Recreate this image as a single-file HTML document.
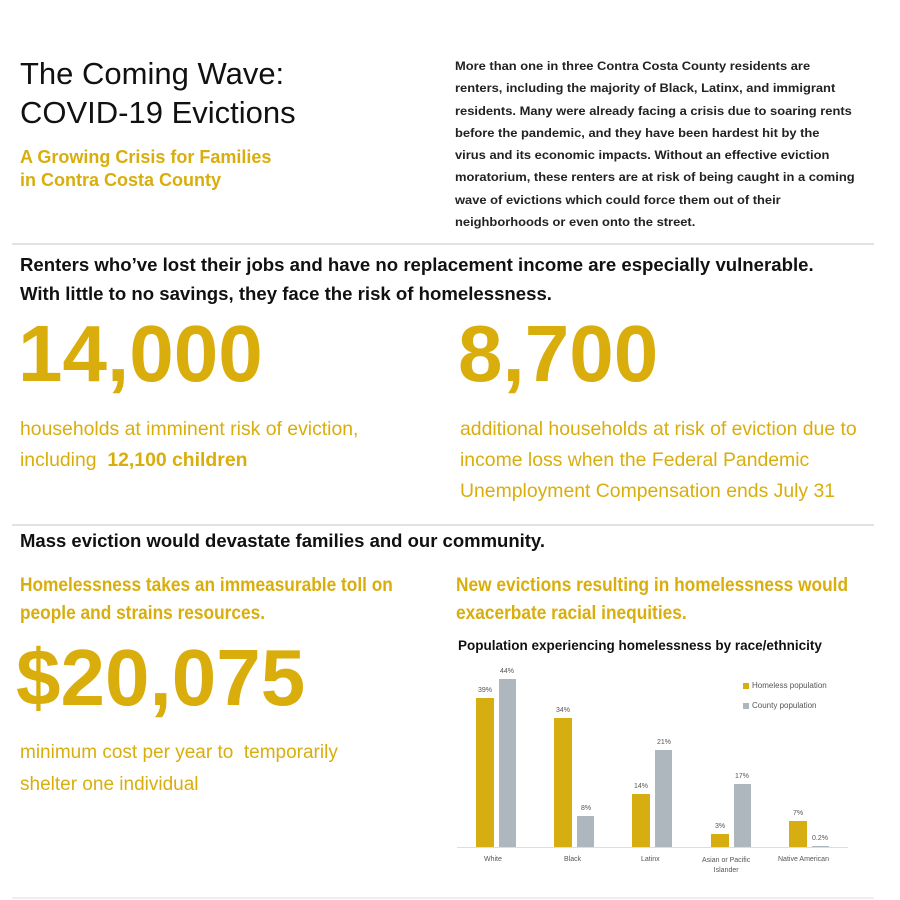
<!DOCTYPE html>
<html><head><meta charset="utf-8"><style>
body{margin:0;width:900px;height:900px;background:#fff;position:relative;overflow:hidden;font-family:"Liberation Sans",sans-serif;}
.t{position:absolute;white-space:nowrap;transform-origin:0 0;line-height:1;}
.g{color:#d9ae0c;}
.hr{position:absolute;left:12px;width:862px;height:2px;background:#e2e2e2;}
.bar{position:absolute;}
.y{background:#d6ae12;}
.s{background:#adb7bd;}
.sm{position:absolute;font-size:7px;color:#555;white-space:nowrap;line-height:1;}
</style></head><body>
<div class="t" style="left:20px;top:58px;font-size:31px;color:#111">The Coming Wave:</div>
<div class="t" style="left:20px;top:97px;font-size:31px;color:#111">COVID-19 Evictions</div>
<div class="t g" style="left:20px;top:148px;font-size:18px;font-weight:bold">A Growing Crisis for Families</div>
<div class="t g" style="left:20px;top:171px;font-size:18px;font-weight:bold">in Contra Costa County</div>

<div class="t" style="left:455px;top:55px;font-size:12.3px;color:#222;font-weight:bold;line-height:22.3px;transform:scaleX(1.05)">More than one in three Contra Costa County residents are<br>renters, including the majority of Black, Latinx, and immigrant<br>residents. Many were already facing a crisis due to soaring rents<br>before the pandemic, and they have been hardest hit by the<br>virus and its economic impacts. Without an effective eviction<br>moratorium, these renters are at risk of being caught in a coming<br>wave of evictions which could force them out of their<br>neighborhoods or even onto the street.</div>

<div class="hr" style="top:243px"></div>
<div class="t" style="left:20px;top:256px;font-size:18.6px;font-weight:bold;color:#111">Renters who’ve lost their jobs and have no replacement income are especially vulnerable.</div>
<div class="t" style="left:20px;top:285px;font-size:18.6px;font-weight:bold;color:#111">With little to no savings, they face the risk of homelessness.</div>

<div class="t g" style="left:18px;top:314px;font-size:80px;font-weight:bold">14,000</div>
<div class="t g" style="left:458px;top:314px;font-size:80px;font-weight:bold">8,700</div>
<div class="t g" style="left:20px;top:414px;font-size:19.4px;line-height:31px">households at imminent risk of eviction,<br>including&nbsp; <b>12,100 children</b></div>
<div class="t g" style="left:460px;top:414px;font-size:19.4px;line-height:31px">additional households at risk of eviction due to<br>income loss when the Federal Pandemic<br>Unemployment Compensation ends July 31</div>

<div class="hr" style="top:524px"></div>
<div class="t" style="left:20px;top:532px;font-size:18.5px;font-weight:bold;color:#111">Mass eviction would devastate families and our community.</div>
<div class="t g" style="left:20px;top:572px;font-size:19px;font-weight:bold;line-height:28px;transform:scaleX(0.91)">Homelessness takes an immeasurable toll on<br>people and strains resources.</div>
<div class="t g" style="left:456px;top:572px;font-size:19px;font-weight:bold;line-height:28px;transform:scaleX(0.91)">New evictions resulting in homelessness would<br>exacerbate racial inequities.</div>
<div class="t g" style="left:16px;top:638px;font-size:80px;font-weight:bold">$20,075</div>
<div class="t g" style="left:20px;top:737px;font-size:19px;line-height:32px">minimum cost per year to&nbsp; temporarily<br>shelter one individual</div>

<div class="t" style="left:458px;top:639px;font-size:13.5px;font-weight:bold;color:#111">Population experiencing homelessness by race/ethnicity</div>

<div class="bar y" style="left:476px;top:698px;width:18px;height:149px"></div>
<div class="bar s" style="left:499px;top:679px;width:17px;height:168px"></div>
<div class="bar y" style="left:554px;top:718px;width:18px;height:129px"></div>
<div class="bar s" style="left:577px;top:816px;width:17px;height:31px"></div>
<div class="bar y" style="left:632px;top:794px;width:18px;height:53px"></div>
<div class="bar s" style="left:655px;top:750px;width:17px;height:97px"></div>
<div class="bar y" style="left:711px;top:834px;width:18px;height:13px"></div>
<div class="bar s" style="left:734px;top:784px;width:17px;height:63px"></div>
<div class="bar y" style="left:789px;top:821px;width:18px;height:26px"></div>
<div class="bar s" style="left:812px;top:846px;width:17px;height:1px"></div>
<div style="position:absolute;left:457px;top:847px;width:391px;height:1px;background:#ddd"></div>

<div class="sm" style="left:478px;top:687px">39%</div>
<div class="sm" style="left:500px;top:668px">44%</div>
<div class="sm" style="left:556px;top:707px">34%</div>
<div class="sm" style="left:581px;top:805px">8%</div>
<div class="sm" style="left:634px;top:783px">14%</div>
<div class="sm" style="left:657px;top:739px">21%</div>
<div class="sm" style="left:715px;top:823px">3%</div>
<div class="sm" style="left:735px;top:773px">17%</div>
<div class="sm" style="left:793px;top:810px">7%</div>
<div class="sm" style="left:812px;top:835px">0.2%</div>

<div class="sm" style="left:484px;top:856px">White</div>
<div class="sm" style="left:564px;top:856px">Black</div>
<div class="sm" style="left:641px;top:856px">Latinx</div>
<div class="sm" style="left:702px;top:856px;text-align:center;line-height:10px">Asian or Pacific<br>Islander</div>
<div class="sm" style="left:778px;top:856px">Native American</div>

<div class="bar y" style="left:743px;top:683px;width:6px;height:6px"></div>
<div class="sm" style="left:752px;top:682px;font-size:8px">Homeless population</div>
<div class="bar s" style="left:743px;top:703px;width:6px;height:6px"></div>
<div class="sm" style="left:752px;top:702px;font-size:8px">County population</div>

<div class="hr" style="top:897px;background:#eee"></div>
</body></html>
